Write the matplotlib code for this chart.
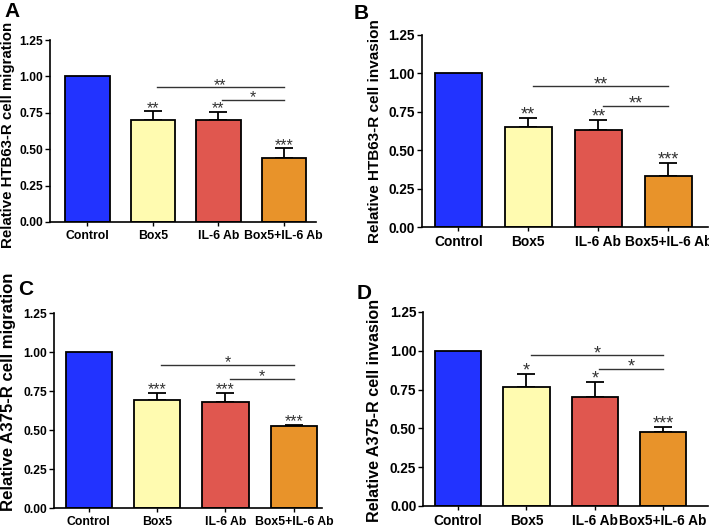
import numpy as np
import matplotlib
matplotlib.use("Agg")
import matplotlib.pyplot as plt

plt.rcParams['font.family'] = ['Liberation Sans', 'DejaVu Sans']

groups = ["Control", "Box5", "IL-6 Ab", "Box5+IL-6 Ab"]
colors = ["#2233ff", "#fffbb0", "#e0574f", "#e8932a"]

# panel data: means, upper error, stars above bars, brackets (i, j, y, label)
means_a = [1.0, 0.70, 0.70, 0.44]
err_a = [0.0, 0.06, 0.055, 0.065]
stars_a = ["", "**", "**", "***"]
brackets_a = [(1, 3, 0.925, "**"), (2, 3, 0.84, "*")]

means_b = [1.0, 0.65, 0.63, 0.335]
err_b = [0.0, 0.06, 0.065, 0.085]
stars_b = ["", "**", "**", "***"]
brackets_b = [(1, 3, 0.915, "**"), (2, 3, 0.79, "**")]

means_c = [1.0, 0.69, 0.68, 0.525]
err_c = [0.0, 0.05, 0.06, 0.01]
stars_c = ["", "***", "***", "***"]
brackets_c = [(1, 3, 0.92, "*"), (2, 3, 0.83, "*")]

means_d = [1.0, 0.765, 0.70, 0.475]
err_d = [0.0, 0.085, 0.10, 0.035]
stars_d = ["", "*", "*", "***"]
brackets_d = [(1, 3, 0.97, "*"), (2, 3, 0.885, "*")]

panels = [
    dict(letter="A", ylabel="Relative HTB63-R cell migration",
         means=means_a, errs=err_a, stars=stars_a, brackets=brackets_a,
         rect=[0.0705, 0.579, 0.375, 0.345], xlim=(-0.57, 3.49), width=0.68,
         letter_xy=(0.006, 0.996), lab_xy=(-0.132, 0.48), s=1.0, ylab=10.8),
    dict(letter="B", ylabel="Relative HTB63-R cell invasion",
         means=means_b, errs=err_b, stars=stars_b, brackets=brackets_b,
         rect=[0.595, 0.569, 0.403, 0.365], xlim=(-0.52, 3.56), width=0.67,
         letter_xy=(0.499, 0.992), lab_xy=(-0.14, 0.50), s=1.13, ylab=11),
    dict(letter="C", ylabel="Relative A375-R cell migration",
         means=means_c, errs=err_c, stars=stars_c, brackets=brackets_c,
         rect=[0.076, 0.036, 0.378, 0.370], xlim=(-0.51, 3.41), width=0.68,
         letter_xy=(0.025, 0.468), lab_xy=(-0.140, 0.595), s=1.0, ylab=12.1),
    dict(letter="D", ylabel="Relative A375-R cell invasion",
         means=means_d, errs=err_d, stars=stars_d, brackets=brackets_d,
         rect=[0.597, 0.040, 0.401, 0.368], xlim=(-0.51, 3.65), width=0.68,
         letter_xy=(0.503, 0.462), lab_xy=(-0.144, 0.49), s=1.13, ylab=11.6),
]

fig = plt.figure(figsize=(7.09, 5.27), dpi=100)
star_col = "#333333"

for p in panels:
    ax = fig.add_axes(p["rect"])
    means, errs, s = p["means"], p["errs"], p["s"]
    x = np.arange(len(groups))
    ax.bar(x, means, width=p["width"], color=colors, edgecolor="black",
           linewidth=1.3, zorder=2)
    ax.errorbar(x[1:], means[1:], yerr=[np.zeros(3), errs[1:]], fmt="none",
                ecolor="black", elinewidth=1.3, capsize=6.5, capthick=1.3, zorder=1)
    for xi, m, e, st in zip(x, means, errs, p["stars"]):
        if st:
            ax.text(xi, m + e - 0.01, st, ha="center", va="baseline",
                    fontsize=11.5 * s, color=star_col)
    for i, j, y, lab in p["brackets"]:
        ax.plot([i + 0.06, j], [y, y], color=star_col, lw=1.0)
        ax.text((i + j) / 2 + 0.03, y - 0.018, lab, ha="center", va="baseline",
                fontsize=11.5 * s, color=star_col)
    ax.set_xlim(*p["xlim"])
    ax.set_ylim(0, 1.25)
    ax.set_yticks([0, 0.25, 0.5, 0.75, 1.0, 1.25])
    ax.set_yticklabels(["0.00", "0.25", "0.50", "0.75", "1.00", "1.25"])
    ax.set_xticks(x)
    ax.set_xticklabels(groups)
    ax.tick_params(axis="x", length=3, width=1.0, labelsize=8.8 * s, pad=3)
    ax.tick_params(axis="y", length=3.5, width=1.0, labelsize=8.7 * s, pad=1.5)
    for lab in ax.get_xticklabels() + ax.get_yticklabels():
        lab.set_fontweight("bold")
    ax.spines["top"].set_visible(False)
    ax.spines["right"].set_visible(False)
    ax.spines["left"].set_linewidth(1.2)
    ax.spines["bottom"].set_linewidth(1.2)
    ax.set_ylabel(p["ylabel"], fontsize=p["ylab"], fontweight="bold")
    ax.yaxis.set_label_coords(*p["lab_xy"])
    fig.text(*p["letter_xy"], p["letter"], fontsize=15, fontweight="bold",
             ha="left", va="top")

fig.savefig("out.png", dpi=100)
